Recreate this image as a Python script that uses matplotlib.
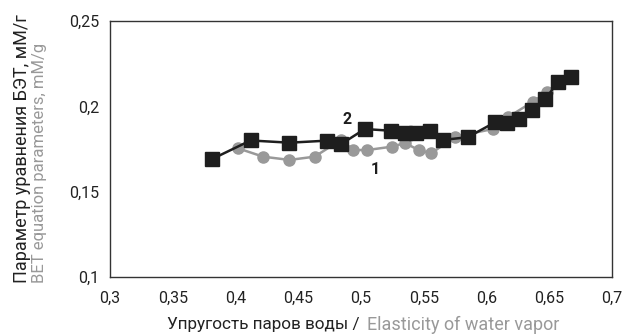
import matplotlib
matplotlib.use("Agg")
import matplotlib.pyplot as plt
from matplotlib.ticker import FuncFormatter

# series 1 (grey circles)
x1 = [0.402, 0.422, 0.443, 0.463, 0.484, 0.494, 0.505, 0.525, 0.535, 0.546,
      0.556, 0.575, 0.605, 0.617, 0.637, 0.648, 0.657]
y1 = [0.1754, 0.1705, 0.1686, 0.1705, 0.1803, 0.1744, 0.1744, 0.1764, 0.1785,
      0.1744, 0.1725, 0.1822, 0.1867, 0.1936, 0.2027, 0.2082, 0.2143]

# series 2 (black squares)
x2 = [0.381, 0.412, 0.443, 0.473, 0.484, 0.503, 0.524, 0.535, 0.544, 0.555,
      0.565, 0.585, 0.607, 0.616, 0.626, 0.636, 0.647, 0.657, 0.667]
y2 = [0.169, 0.180, 0.1787, 0.1799, 0.1778, 0.1867, 0.1857, 0.1846, 0.1846,
      0.1856, 0.1803, 0.1819, 0.1907, 0.1901, 0.1926, 0.1979, 0.2043, 0.2144, 0.217]

x_ticks = [0.3, 0.35, 0.4, 0.45, 0.5, 0.55, 0.6, 0.65, 0.7]
y_ticks = [0.1, 0.15, 0.2, 0.25]

GREY = "#999999"
BLACK = "#1e1e1e"

plt.rcParams["font.family"] = ["Roboto", "DejaVu Sans"]

W, H = 630, 335
fig = plt.figure(figsize=(W / 100, H / 100), dpi=100)
ax = fig.add_axes([110 / W, 1 - 277 / H, (612 - 110) / W, (277 - 21) / H])

ax.plot(x1, y1, color=GREY, lw=1.8, marker="o", ms=8, mec=GREY, mfc=GREY, zorder=2)
ax.plot(x2, y2, color=BLACK, lw=1.8, marker="s", ms=9.5, mec=BLACK, mfc=BLACK, zorder=3)

ax.text(0.4886, 0.192, "2", fontsize=11.5, fontweight="bold", color=BLACK, ha="center", va="center")
ax.text(0.511, 0.1627, "1", fontsize=11.5, fontweight="bold", color=BLACK, ha="center", va="center")

ax.set_xlim(0.3, 0.7)
ax.set_ylim(0.1, 0.25)
ax.set_xticks(x_ticks)
ax.set_yticks(y_ticks)
comma = FuncFormatter(lambda v, _: f"{v:g}".replace(".", ","))
ax.xaxis.set_major_formatter(comma)
ax.yaxis.set_major_formatter(comma)
ax.tick_params(length=0, labelsize=11.5, colors="#222222")
ax.tick_params(axis="x", pad=10)
ax.tick_params(axis="y", pad=8)
for spine in ax.spines.values():
    spine.set_color("#333333")
    spine.set_linewidth(1.0)

# axis titles: Russian in black, English in grey
fig.text(360 / W, 1 - 325 / H, "Упругость паров воды /", color="#222222",
         fontsize=12.3, ha="right", va="center")
fig.text(367 / W, 1 - 325 / H, "Elasticity of water vapor", color=GREY,
         fontsize=13, ha="left", va="center")
fig.text(22 / W, 1 - 283 / H, "Параметр уравнения БЭТ, мМ/г", color="#222222",
         fontsize=13, rotation=90, ha="center", va="bottom")
fig.text(40 / W, 1 - 283 / H, "BET equation parameters, mM/g", color=GREY,
         fontsize=12, rotation=90, ha="center", va="bottom")

fig.savefig("out.png", dpi=100)
